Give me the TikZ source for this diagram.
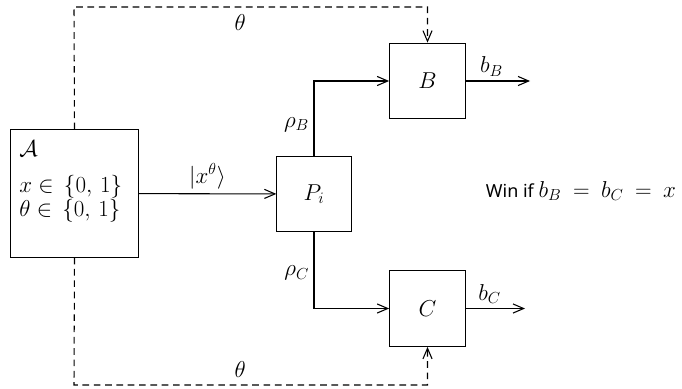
\documentclass[tikz,border=0pt]{standalone}
\usepackage{amsmath,amssymb}
\usepackage{fontspec}
\setmainfont{Noto Sans}
\usetikzlibrary{arrows.meta,positioning,calc}
\newcommand{\mathsz}{\fontsize{18}{21}\selectfont}
\tikzset{
  box/.style  = {draw, thick, minimum width=2cm, minimum height=2cm, inner sep=0pt},
  ar/.style   = {-{Straight Barb[length=2.8mm, width=2.4mm]}, thick},
  dar/.style  = {ar, dash pattern=on 5pt off 3.5pt},
  lbl/.style  = {font=\mathsz},
}
\begin{document}
\begin{tikzpicture}[x=0.0264cm, y=-0.0264cm, font=\fontsize{13.5}{16}\selectfont]
  \useasboundingbox (0,0) rectangle (682,389);
  % boxes
  \node[box, minimum width=3.36cm, minimum height=3.36cm] (A) at (74.5,193.5) {};
  \node[anchor=north west, align=left, inner sep=0pt, font=\fontsize{16.5}{19}\selectfont]
    (Atxt) at (19,141)
    {$\mathcal{A}$\\[8pt] $x \in \,\{0,\, 1\}$\\[-1pt] $\theta \in \,\{0,\, 1\}$};
  \node[box, minimum width=1.96cm, minimum height=1.96cm, lbl] (P) at (314,194) {$P_i$};
  \node[box, lbl] (B) at (427.5,81) {$B$};
  \node[box, lbl] (C) at (427.5,308.5) {$C$};
  \node (win) at (581,191) {Win if {\mathsz$b_B \:=\: b_C \:=\: x$}};
  % outputs
  \coordinate (bBend) at (530,81);
  \coordinate (bCend) at (525,308.5);
  \coordinate (top) at (74,7);
  \coordinate (bot) at (74,385);
  % quantum channel
  \draw[ar] (A) -- node[above, lbl] {$\lvert x^{\theta}\rangle$} (P);
  \draw[ar] (P.north) |- node[pos=0.21, left, lbl] {$\rho_B$} (B);
  \draw[ar] (P.south) |- node[pos=0.27, left, lbl] {$\rho_C$} (C);
  \draw[ar] (B) -- node[above, lbl, pos=0.4] {$b_B$} (bBend);
  \draw[ar] (C) -- node[above, lbl, pos=0.4] {$b_C$} (bCend);
  % classical basis info
  \draw[dar] (A.north) -- (top) -| node[pos=0.235, below=2pt, lbl] {$\theta$} (B.north);
  \draw[dar] (A.south) -- (bot) -| node[pos=0.235, above=2pt, lbl] {$\theta$} (C.south);
\end{tikzpicture}
\end{document}
